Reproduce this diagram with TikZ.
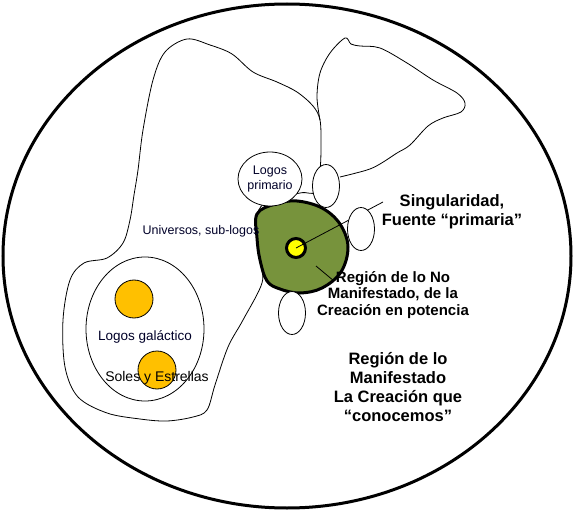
\documentclass[tikz,border=0pt]{standalone}
\usepackage{fontspec}
\setmainfont{Liberation Sans}
\usetikzlibrary{shapes.geometric}
\definecolor{verdeoliva}{RGB}{119,147,60}
\definecolor{naranja}{RGB}{255,192,0}
\definecolor{amarillo}{RGB}{255,255,0}
\definecolor{tinta}{RGB}{0,0,40}

\begin{document}
\begin{tikzpicture}[x=1pt,y=-1pt,
    linea/.style={line width=0.8pt},
    hueco/.style={ellipse,draw,linea,fill=white,inner sep=0pt,minimum width=27pt,minimum height=43pt},
    sol/.style={circle,draw,linea,fill=naranja,minimum size=38pt,inner sep=0pt},
    rotulo/.style={align=center,inner sep=0pt,font=\fontsize{16.5}{19.3}\selectfont\bfseries},
    texto/.style={align=center,inner sep=0pt,text=tinta,font=\fontsize{12.5}{15}\selectfont}]
	\useasboundingbox (0,0) rectangle (574,511);
	\node[ellipse,draw,line width=3pt,minimum width=568pt,minimum height=504pt] (cosmos) at (287,256) {};
	% universos y galaxia
	\draw[linea] plot[smooth cycle,tension=0.55] coordinates {(187,39) (210,45) (232,54) (253,72) (277,82) (297,92) (313,106) (320,120) (321,145) (320,170) (315,192) (300,193) (265,203) (256,222) (260,260) (262,283) (243,320) (228,347) (215,385) (207,410) (193,417) (167,421) (140,419) (107,413) (78,397) (65,367) (63,320) (70,280) (84,263) (107,258) (123,243) (130,220) (134,195) (138,170) (143,130) (153,80) (165,52)};
	\draw[linea] plot[smooth,tension=0.55] coordinates {(320,120) (317,97) (320,73) (330,53) (345,38) (351,44) (360,46) (380,48) (407,63) (433,80) (457,93) (465,103) (461,112) (443,118) (428,126) (410,145) (397,153) (380,164) (367,170) (340,177)};
	\node[ellipse,draw,linea,minimum width=118pt,minimum height=144pt] (galaxia) at (145,329) {};
	\node[sol] (sol1) at (134,299) {};
	\node[sol] (sol2) at (157,370) {};
	% no manifestado
	\draw[line width=3pt,fill=verdeoliva] plot[smooth cycle,tension=0.6] coordinates {(257,214) (275,204) (297,201) (322,208) (340,224) (348,247) (341,272) (322,288) (300,293) (280,289) (267,281) (260,260) (257,238)};
	\node[circle,draw,line width=3pt,fill=amarillo,minimum size=19pt,inner sep=0pt] (punto) at (296,248) {};
	\coordinate (puntotip) at (383,202);
	\draw[linea] (punto.center) -- (puntotip);
	\coordinate (nmbase) at (316,266);
	\coordinate (nmtip) at (334,281);
	\draw[linea] (nmbase) -- (nmtip);
	\node[hueco] (h1) at (326,186) {};
	\node[hueco] (h2) at (361,229) {};
	\node[hueco] (h3) at (292,313) {};
	\node[hueco,texto,minimum width=64pt,minimum height=54pt] (primario) at (270,179) {Logos\\primario};
	% textos
	\node[texto] (universos) at (201,231) {Universos, sub-logos};
	\node[texto,font=\fontsize{13.5}{16}\selectfont] (galactico) at (145,337) {Logos galáctico};
	\node[texto,text=black,font=\fontsize{14}{16}\selectfont] (soles) at (157,378) {Soles y Estrellas};
	\node[rotulo] (singular) at (452,212) {Singularidad,\\Fuente “primaria”};
	\node[rotulo,font=\fontsize{15}{16.5}\selectfont\bfseries] (nomanif) at (393,295) {Región de lo No\\Manifestado, de la\\Creación en potencia};
	\node[rotulo] (manif) at (398,387) {Región de lo\\Manifestado\\La Creación que\\“conocemos”};
\end{tikzpicture}
\end{document}
